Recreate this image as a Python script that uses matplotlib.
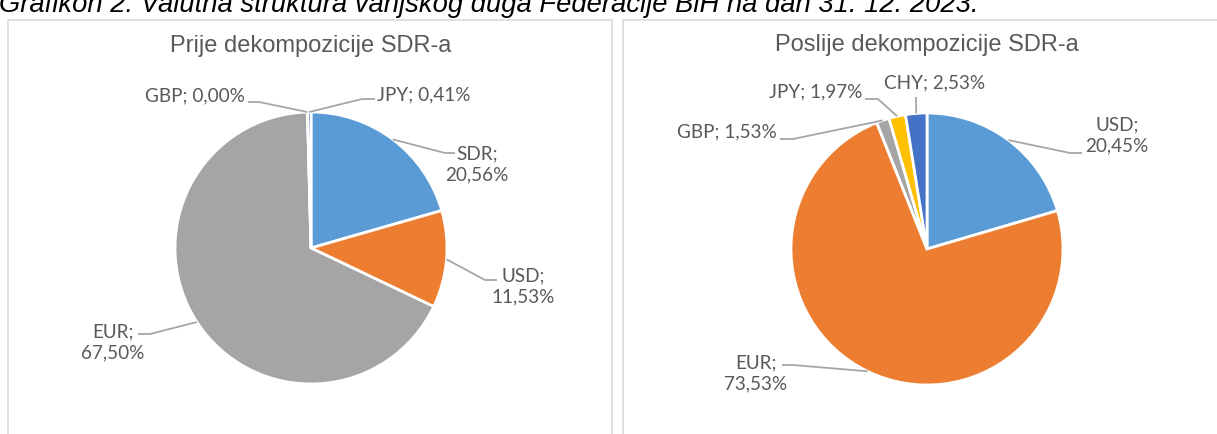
import numpy as np
import matplotlib
matplotlib.use("Agg")
import matplotlib.pyplot as plt

# ─── Podaci ───────────────────────────────────────────────────────────────────
naslov_lijevo = "Prije dekompozicije SDR-a"
valute_prije = ["SDR", "USD", "EUR", "GBP", "JPY"]
udio_prije = [20.56, 11.53, 67.50, 0.00, 0.41]

naslov_desno = "Poslije dekompozicije SDR-a"
valute_poslije = ["USD", "EUR", "GBP", "JPY", "CHY"]
udio_poslije = [20.45, 73.53, 1.53, 1.97, 2.53]

naslov_grafikona = "Grafikon 2: Valutna struktura vanjskog duga Federacije BiH na dan 31. 12. 2023."

# ─── Stil ─────────────────────────────────────────────────────────────────────
BOJE = ["#5B9BD5", "#ED7D31", "#A5A5A5", "#FFC000", "#4472C4"]
TEXT = "#595959"
LINE = "#A6A6A6"
BORDER = "#D9D9D9"
W, H = 1217, 434

fig = plt.figure(figsize=(W / 100, H / 100), dpi=100, facecolor="white")
ax = fig.add_axes([0, 0, 1, 1])


def py(y):
    # pikselna y koordinata (od vrha) -> podatkovna
    return H - y


# okviri panela
ax.plot([8, 8, 612, 612], [py(440), py(20), py(20), py(440)], color=BORDER, lw=1.2)
ax.plot([623, 623, 1230], [py(440), py(20), py(20)], color=BORDER, lw=1.2)

# odrezani naslov na vrhu (u originalu vidljiv samo donji dio)
ax.text(-1, py(12), naslov_grafikona, fontsize=19.7, style="italic",
        family="Liberation Sans", color="#000000", ha="left", va="baseline")


def fmt(name, v, two_lines):
    s = f"{v:.2f}".replace(".", ",")
    return f"{name};\n{s}%" if two_lines else f"{name}; {s}%"


def crtaj(center, r, title, title_y, names, values, layout):
    wedges, _ = ax.pie(values, colors=BOJE, startangle=90, counterclock=False,
                       center=(center[0], py(center[1])), radius=r,
                       wedgeprops=dict(edgecolor="white", linewidth=2))
    ax.text(center[0], py(title_y), title, fontsize=17, family="Liberation Sans",
            color=TEXT, ha="center", va="center")
    for w, name, v in zip(wedges, names, values):
        tx, ty, ha, two, elbow, end = layout[name]
        mid = np.deg2rad((w.theta1 + w.theta2) / 2)
        sx = w.center[0] + w.r * np.cos(mid)
        sy = w.center[1] + w.r * np.sin(mid)
        ax.plot([sx, elbow[0], end[0]], [sy, py(elbow[1]), py(end[1])],
                color=LINE, lw=1.3, solid_capstyle="butt")
        ax.text(tx, py(ty), fmt(name, v, two), fontsize=13.6, family="Lato",
                color=TEXT, ha=ha, va="center", linespacing=1.3,
                multialignment="center")


# položaj natpisa: (x, y, ha, dva reda, koljeno, kraj linije)
raspored_lijevo = {
    "SDR": (477, 164, "center", True, (445, 153), (455, 153)),
    "USD": (523, 286, "center", True, (485, 280), (497, 280)),
    "EUR": (113, 342, "center", True, (150, 334), (138, 334)),
    "GBP": (245, 96, "right", False, (259, 102), (248, 102)),
    "JPY": (377, 95, "left", False, (362, 99), (375, 99)),
}
raspored_desno = {
    "USD": (1117, 135, "center", True, (1070, 153), (1082, 153)),
    "EUR": (756, 373, "center", True, (793, 365), (782, 365)),
    "GBP": (777, 132, "right", False, (793, 139), (780, 139)),
    "JPY": (862, 92, "right", False, (878, 99), (865, 99)),
    "CHY": (935, 83, "center", False, (916, 97), (916, 97)),
}

crtaj((311, 248), 136, naslov_lijevo, 46, valute_prije, udio_prije, raspored_lijevo)
crtaj((927, 249), 136, naslov_desno, 45, valute_poslije, udio_poslije, raspored_desno)

ax.set_xlim(0, W)
ax.set_ylim(0, H)
ax.set_aspect("auto")
ax.axis("off")

fig.savefig("out.png", dpi=100, facecolor="white")
